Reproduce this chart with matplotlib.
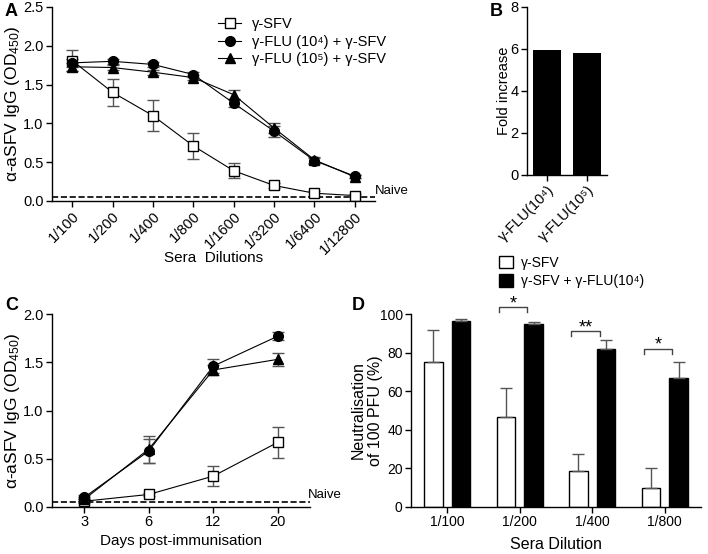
import matplotlib
matplotlib.use("Agg")
import matplotlib.pyplot as plt
from matplotlib.lines import Line2D
import numpy as np

plt.rcParams['font.family'] = ['Liberation Sans', 'DejaVu Sans']
plt.rcParams['mathtext.fontset'] = 'custom'
plt.rcParams['mathtext.rm'] = 'Liberation Sans'
plt.rcParams['mathtext.it'] = 'Liberation Sans:italic'
plt.rcParams['font.size'] = 10

# ---- dados painel A
diluicoes = ['1/100', '1/200', '1/400', '1/800', '1/1600', '1/3200', '1/6400', '1/12800']
sfv_a = [1.81, 1.40, 1.10, 0.71, 0.39, 0.20, 0.10, 0.07]
sfv_a_err = [0.13, 0.17, 0.20, 0.17, 0.10, 0.03, 0.03, 0.02]
flu4_a = [1.78, 1.80, 1.76, 1.63, 1.26, 0.90, 0.52, 0.32]
flu4_a_err = [0.05, 0.03, 0.03, 0.03, 0.05, 0.07, 0.04, 0.02]
flu5_a = [1.73, 1.72, 1.66, 1.59, 1.37, 0.94, 0.53, 0.31]
flu5_a_err = [0.05, 0.03, 0.03, 0.03, 0.06, 0.06, 0.04, 0.02]
naive = 0.05

# ---- painel B
grupos_b = ['γ-FLU(10⁴)', 'γ-FLU(10⁵)']
fold = [5.97, 5.83]

# ---- painel C
dias = ['3', '6', '12', '20']
sfv_c = [0.06, 0.13, 0.32, 0.67]
sfv_c_err = [0.02, 0.02, 0.10, 0.16]
flu4_c = [0.10, 0.58, 1.46, 1.77]
flu4_c_err = [0.02, 0.12, 0.07, 0.04]
flu5_c = [0.08, 0.60, 1.42, 1.53]
flu5_c_err = [0.02, 0.14, 0.05, 0.07]

# ---- painel D
diluicoes_d = ['1/100', '1/200', '1/400', '1/800']
neut_sfv = [75, 46.5, 18.5, 10]
neut_sfv_err = [16.5, 15, 9, 10]
neut_flu = [96.5, 95, 82, 67]
neut_flu_err = [0.7, 0.8, 4.5, 8]
sig = ['', '*', '**', '*']
sig_y = [None, 103.5, 91, 82]

W, H = 708, 554
fig = plt.figure(figsize=(W / 100, H / 100), dpi=100)

def estilo(ax, tam=10.5):
    for s in ['top', 'right']:
        ax.spines[s].set_visible(False)
    for s in ['left', 'bottom']:
        ax.spines[s].set_linewidth(1.0)
    ax.tick_params(direction='out', length=4, width=1, labelsize=tam, pad=2)

def px_label(ax, axis, pos):
    # coloca o rotulo numa posicao em pixels da figura
    l, b, w, h = ax.get_position().bounds
    if axis == 'y':
        ax.yaxis.set_label_coords((pos / W - l) / w, 0.5)
    else:
        ax.xaxis.set_label_coords(0.5, ((1 - pos / H) - b) / h)

ylab = 'α-aSFV IgG (OD$_{450}$)'
errkw = dict(ecolor='#555555', elinewidth=1, capsize=4, capthick=1)

# GRAFICO A
axA = fig.add_axes([52/W, 1-201/H, 323/W, 194/H])
x = np.arange(len(diluicoes))
axA.errorbar(x, sfv_a, yerr=sfv_a_err, color='black', lw=0.8, marker='s', ms=7,
             mfc='white', mec='black', mew=1, **errkw)
axA.errorbar(x, flu4_a, yerr=flu4_a_err, color='black', lw=0.8, marker='o', ms=7, **errkw)
axA.errorbar(x, flu5_a, yerr=flu5_a_err, color='black', lw=0.8, marker='^', ms=7, **errkw)
axA.axhline(naive, color='black', ls='--', lw=1.2)
axA.set_xlim(-0.5, 7.5)
axA.set_ylim(0, 2.5)
axA.set_yticks([0, 0.5, 1.0, 1.5, 2.0, 2.5])
axA.set_yticklabels(['0.0', '0.5', '1.0', '1.5', '2.0', '2.5'])
axA.set_xticks(x)
axA.set_xticklabels(diluicoes, rotation=45, ha='right', rotation_mode='anchor')
axA.set_xlabel('Sera  Dilutions', fontsize=11)
axA.set_ylabel(ylab, fontsize=12.5)
estilo(axA)
px_label(axA, 'y', 22)
px_label(axA, 'x', 251)
axA.text(1.0, naive, 'Naive', transform=axA.get_yaxis_transform(), fontsize=9.5,
         va='bottom', ha='left', clip_on=False)
hA = [Line2D([], [], color='black', lw=0.8, marker='s', ms=7, mfc='white', mew=1),
      Line2D([], [], color='black', lw=0.8, marker='o', ms=7),
      Line2D([], [], color='black', lw=0.8, marker='^', ms=7)]
axA.legend(hA, ['γ-SFV', 'γ-FLU (10⁴) + γ-SFV', 'γ-FLU (10⁵) + γ-SFV'],
           loc='upper left', bbox_to_anchor=(218/W, 1-17/H), bbox_transform=fig.transFigure,
           frameon=False, handlelength=1.6, handletextpad=0.7, labelspacing=0.25, fontsize=10.5,
           borderaxespad=0, borderpad=0)
fig.text(5/W, 1-12/H, 'A', fontsize=13, fontweight='bold', va='center')

# GRAFICO B
axB = fig.add_axes([527/W, 1-175/H, 80/W, 168/H])
xb = np.arange(len(grupos_b))
axB.bar(xb, fold, width=0.68, color='black')
axB.set_xlim(-0.5, 1.5)
axB.set_ylim(0, 8)
axB.set_yticks([0, 2, 4, 6, 8])
axB.set_xticks(xb)
axB.set_xticklabels(grupos_b, rotation=45, ha='right', rotation_mode='anchor')
axB.set_ylabel('Fold increase', fontsize=10.5)
estilo(axB)
px_label(axB, 'y', 511)
fig.text(490/W, 1-12/H, 'B', fontsize=13, fontweight='bold', va='center')

# GRAFICO C
axC = fig.add_axes([52/W, 1-507/H, 258/W, 193/H])
xc = np.arange(len(dias))
axC.errorbar(xc, sfv_c, yerr=sfv_c_err, color='black', lw=0.8, marker='s', ms=7,
             mfc='white', mec='black', mew=1, **errkw)
axC.errorbar(xc, flu4_c, yerr=flu4_c_err, color='black', lw=0.8, marker='o', ms=7, **errkw)
axC.errorbar(xc, flu5_c, yerr=flu5_c_err, color='black', lw=0.8, marker='^', ms=7, **errkw)
axC.axhline(naive, color='black', ls='--', lw=1.2)
axC.set_xlim(-0.5, 3.5)
axC.set_ylim(0, 2.0)
axC.set_yticks([0, 0.5, 1.0, 1.5, 2.0])
axC.set_yticklabels(['0.0', '0.5', '1.0', '1.5', '2.0'])
axC.set_xticks(xc)
axC.set_xticklabels(dias)
axC.set_xlabel('Days post-immunisation', fontsize=11)
axC.set_ylabel(ylab, fontsize=12.5)
estilo(axC)
px_label(axC, 'y', 22)
px_label(axC, 'x', 534)
axC.text(0.99, naive + 0.015, 'Naive', transform=axC.get_yaxis_transform(), fontsize=9.5,
         va='bottom', ha='left', clip_on=False)
fig.text(5/W, 1-306/H, 'C', fontsize=13, fontweight='bold', va='center')

# GRAFICO D
axD = fig.add_axes([411/W, 1-507/H, 290/W, 193/H])
xd = np.arange(len(diluicoes_d))
off = 0.19
w = 0.255
ekw = dict(ecolor='#555555', elinewidth=1, capsize=4, capthick=1)
axD.bar(xd - off, neut_sfv, width=w, color='white', edgecolor='black', lw=1,
        yerr=[np.zeros(4), neut_sfv_err], error_kw=ekw, label='γ-SFV')
axD.bar(xd + off, neut_flu, width=w, color='black', edgecolor='black', lw=1,
        yerr=[np.zeros(4), neut_flu_err], error_kw=ekw, label='γ-SFV + γ-FLU(10⁴)')
for i in range(len(xd)):
    if sig[i]:
        y0 = sig_y[i]
        xl, xr = xd[i] - 0.29, xd[i] + 0.10
        axD.plot([xl, xl, xr, xr], [y0 - 2.5, y0, y0, y0 - 2.5], color='#444444', lw=1, clip_on=False)
        axD.text((xl + xr) / 2, y0 - 2.5, sig[i], ha='center', va='bottom', fontsize=13, clip_on=False)
axD.set_xlim(-0.5, 3.5)
axD.set_ylim(0, 100)
axD.set_yticks([0, 20, 40, 60, 80, 100])
axD.set_xticks(xd)
axD.set_xticklabels(diluicoes_d)
axD.set_xlabel('Sera Dilution', fontsize=11.5)
axD.set_ylabel('Neutralisation\nof 100 PFU (%)', fontsize=11.5, linespacing=1.15)
estilo(axD, 10)
px_label(axD, 'y', 383)
px_label(axD, 'x', 537)
axD.legend(loc='upper left', bbox_to_anchor=(499/W, 1-256/H), bbox_transform=fig.transFigure,
           frameon=False, handlelength=1.0, handleheight=1.0, handletextpad=0.6, labelspacing=0.3,
           fontsize=10, borderaxespad=0, borderpad=0)
fig.text(352/W, 1-306/H, 'D', fontsize=13, fontweight='bold', va='center')

fig.savefig('out.png', dpi=100)
